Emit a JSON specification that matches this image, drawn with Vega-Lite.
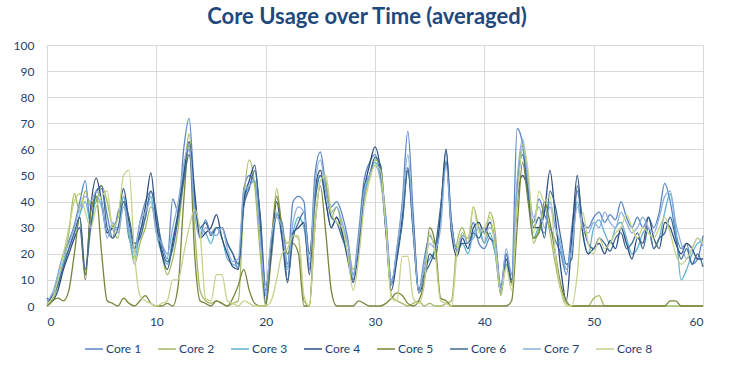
{
 "$schema": "https://vega.github.io/schema/vega-lite/v6.json",
 "width": 656, "height": 261,
 "autosize": "none",
 "padding": {"left": 47, "top": 45, "right": 32, "bottom": 68},
 "background": "white",
 "title": {"text": "Core Usage over Time (averaged)", "font": "Lato", "fontSize": 22, "fontWeight": "bold", "color": "#1F497D", "anchor": "middle", "offset": 10, "dx": -8},
 "data": {"values": [
{"t":0,"c1":0,"c2":0,"c3":2,"c4":3,"c5":0,"c6":1,"c7":2,"c8":1},
{"t":0.5,"c1":2,"c2":2,"c3":4,"c4":2,"c5":2,"c6":4,"c7":5,"c8":3},
{"t":1,"c1":12,"c2":8,"c3":9,"c4":6,"c5":3,"c6":8,"c7":12,"c8":10},
{"t":1.5,"c1":20,"c2":16,"c3":17,"c4":14,"c5":2,"c6":15,"c7":19,"c8":20},
{"t":2,"c1":25,"c2":28,"c3":22,"c4":20,"c5":6,"c6":22,"c7":24,"c8":30},
{"t":2.5,"c1":31,"c2":43,"c3":28,"c4":26,"c5":20,"c6":28,"c7":30,"c8":40},
{"t":3,"c1":40,"c2":36,"c3":35,"c4":30,"c5":34,"c6":34,"c7":38,"c8":43},
{"t":3.5,"c1":48,"c2":44,"c3":40,"c4":12,"c5":10,"c6":14,"c7":42,"c8":36},
{"t":4,"c1":30,"c2":38,"c3":32,"c4":38,"c5":36,"c6":30,"c7":40,"c8":30},
{"t":4.5,"c1":44,"c2":40,"c3":42,"c4":49,"c5":42,"c6":44,"c7":44,"c8":38},
{"t":5,"c1":45,"c2":46,"c3":38,"c4":40,"c5":20,"c6":46,"c7":40,"c8":42},
{"t":5.5,"c1":35,"c2":40,"c3":28,"c4":28,"c5":2,"c6":30,"c7":26,"c8":44},
{"t":6,"c1":26,"c2":30,"c3":30,"c4":30,"c5":1,"c6":26,"c7":32,"c8":30},
{"t":6.5,"c1":36,"c2":26,"c3":30,"c4":34,"c5":0,"c6":30,"c7":28,"c8":34},
{"t":7,"c1":40,"c2":42,"c3":42,"c4":45,"c5":3,"c6":40,"c7":38,"c8":50},
{"t":7.5,"c1":26,"c2":28,"c3":28,"c4":32,"c5":1,"c6":34,"c7":30,"c8":52},
{"t":8,"c1":22,"c2":16,"c3":18,"c4":22,"c5":0,"c6":24,"c7":20,"c8":20},
{"t":8.5,"c1":32,"c2":24,"c3":28,"c4":28,"c5":2,"c6":26,"c7":32,"c8":4},
{"t":9,"c1":40,"c2":30,"c3":34,"c4":38,"c5":4,"c6":34,"c7":36,"c8":2},
{"t":9.5,"c1":44,"c2":38,"c3":42,"c4":51,"c5":1,"c6":44,"c7":40,"c8":1},
{"t":10,"c1":34,"c2":32,"c3":28,"c4":32,"c5":0,"c6":36,"c7":28,"c8":0},
{"t":10.5,"c1":24,"c2":20,"c3":20,"c4":20,"c5":0,"c6":22,"c7":24,"c8":1},
{"t":11,"c1":18,"c2":12,"c3":16,"c4":14,"c5":1,"c6":17,"c7":20,"c8":2},
{"t":11.5,"c1":41,"c2":18,"c3":26,"c4":24,"c5":0,"c6":22,"c7":30,"c8":10},
{"t":12,"c1":36,"c2":30,"c3":36,"c4":36,"c5":8,"c6":34,"c7":40,"c8":10},
{"t":12.5,"c1":60,"c2":48,"c3":52,"c4":50,"c5":40,"c6":48,"c7":54,"c8":20},
{"t":13,"c1":72,"c2":66,"c3":60,"c4":63,"c5":62,"c6":58,"c7":62,"c8":30},
{"t":13.5,"c1":42,"c2":30,"c3":38,"c4":44,"c5":20,"c6":40,"c7":36,"c8":37},
{"t":14,"c1":27,"c2":6,"c3":30,"c4":26,"c5":2,"c6":30,"c7":26,"c8":28},
{"t":14.5,"c1":33,"c2":2,"c3":28,"c4":28,"c5":1,"c6":32,"c7":30,"c8":3},
{"t":15,"c1":28,"c2":1,"c3":24,"c4":30,"c5":0,"c6":27,"c7":28,"c8":2},
{"t":15.5,"c1":30,"c2":2,"c3":30,"c4":35,"c5":2,"c6":30,"c7":27,"c8":12},
{"t":16,"c1":30,"c2":1,"c3":26,"c4":26,"c5":1,"c6":30,"c7":30,"c8":12},
{"t":16.5,"c1":24,"c2":0,"c3":18,"c4":20,"c5":0,"c6":24,"c7":22,"c8":2},
{"t":17,"c1":20,"c2":1,"c3":16,"c4":15,"c5":3,"c6":20,"c7":17,"c8":1},
{"t":17.5,"c1":14,"c2":2,"c3":15,"c4":14,"c5":8,"c6":16,"c7":18,"c8":0},
{"t":18,"c1":45,"c2":40,"c3":40,"c4":40,"c5":14,"c6":38,"c7":44,"c8":2},
{"t":18.5,"c1":50,"c2":56,"c3":46,"c4":48,"c5":6,"c6":45,"c7":46,"c8":1},
{"t":19,"c1":47,"c2":46,"c3":48,"c4":54,"c5":1,"c6":52,"c7":48,"c8":0},
{"t":19.5,"c1":35,"c2":20,"c3":28,"c4":32,"c5":0,"c6":34,"c7":26,"c8":0},
{"t":20,"c1":8,"c2":0,"c3":4,"c4":1,"c5":0,"c6":6,"c7":5,"c8":0},
{"t":20.5,"c1":18,"c2":18,"c3":24,"c4":20,"c5":24,"c6":24,"c7":26,"c8":2},
{"t":21,"c1":35,"c2":45,"c3":36,"c4":40,"c5":42,"c6":34,"c7":34,"c8":10},
{"t":21.5,"c1":32,"c2":30,"c3":26,"c4":26,"c5":30,"c6":30,"c7":30,"c8":20},
{"t":22,"c1":16,"c2":24,"c3":14,"c4":9,"c5":20,"c6":10,"c7":15,"c8":22},
{"t":22.5,"c1":40,"c2":27,"c3":28,"c4":28,"c5":24,"c6":26,"c7":32,"c8":27},
{"t":23,"c1":42,"c2":26,"c3":34,"c4":30,"c5":20,"c6":32,"c7":38,"c8":27},
{"t":23.5,"c1":40,"c2":2,"c3":30,"c4":32,"c5":0,"c6":36,"c7":36,"c8":4},
{"t":24,"c1":14,"c2":0,"c3":18,"c4":12,"c5":0,"c6":20,"c7":16,"c8":0},
{"t":24.5,"c1":50,"c2":38,"c3":42,"c4":44,"c5":30,"c6":40,"c7":46,"c8":30},
{"t":25,"c1":59,"c2":52,"c3":50,"c4":52,"c5":46,"c6":50,"c7":56,"c8":48},
{"t":25.5,"c1":46,"c2":48,"c3":40,"c4":40,"c5":28,"c6":44,"c7":44,"c8":50},
{"t":26,"c1":38,"c2":34,"c3":30,"c4":30,"c5":6,"c6":34,"c7":36,"c8":36},
{"t":26.5,"c1":40,"c2":38,"c3":34,"c4":34,"c5":0,"c6":32,"c7":38,"c8":32},
{"t":27,"c1":35,"c2":30,"c3":28,"c4":28,"c5":0,"c6":26,"c7":32,"c8":30},
{"t":27.5,"c1":26,"c2":24,"c3":20,"c4":18,"c5":0,"c6":20,"c7":24,"c8":20},
{"t":28,"c1":12,"c2":14,"c3":12,"c4":9,"c5":0,"c6":10,"c7":11,"c8":6},
{"t":28.5,"c1":28,"c2":20,"c3":22,"c4":22,"c5":2,"c6":24,"c7":26,"c8":18},
{"t":29,"c1":48,"c2":40,"c3":42,"c4":44,"c5":1,"c6":46,"c7":44,"c8":38},
{"t":29.5,"c1":55,"c2":50,"c3":50,"c4":54,"c5":0,"c6":50,"c7":50,"c8":48},
{"t":30,"c1":58,"c2":56,"c3":55,"c4":61,"c5":0,"c6":57,"c7":54,"c8":54},
{"t":30.5,"c1":50,"c2":54,"c3":50,"c4":52,"c5":0,"c6":54,"c7":48,"c8":52},
{"t":31,"c1":34,"c2":30,"c3":32,"c4":28,"c5":1,"c6":30,"c7":31,"c8":30},
{"t":31.5,"c1":8,"c2":4,"c3":10,"c4":6,"c5":3,"c6":9,"c7":9,"c8":3},
{"t":32,"c1":22,"c2":2,"c3":18,"c4":18,"c5":5,"c6":20,"c7":22,"c8":2},
{"t":32.5,"c1":40,"c2":1,"c3":32,"c4":34,"c5":4,"c6":32,"c7":38,"c8":19},
{"t":33,"c1":67,"c2":0,"c3":52,"c4":53,"c5":1,"c6":52,"c7":58,"c8":19},
{"t":33.5,"c1":35,"c2":1,"c3":28,"c4":28,"c5":0,"c6":32,"c7":30,"c8":3},
{"t":34,"c1":6,"c2":2,"c3":6,"c4":5,"c5":2,"c6":6,"c7":5,"c8":1},
{"t":34.5,"c1":18,"c2":0,"c3":14,"c4":10,"c5":10,"c6":12,"c7":16,"c8":8},
{"t":35,"c1":27,"c2":1,"c3":18,"c4":20,"c5":30,"c6":16,"c7":24,"c8":28},
{"t":35.5,"c1":24,"c2":0,"c3":22,"c4":18,"c5":24,"c6":22,"c7":22,"c8":20},
{"t":36,"c1":34,"c2":0,"c3":34,"c4":36,"c5":3,"c6":38,"c7":30,"c8":2},
{"t":36.5,"c1":60,"c2":1,"c3":56,"c4":60,"c5":2,"c6":55,"c7":54,"c8":1},
{"t":37,"c1":32,"c2":2,"c3":28,"c4":28,"c5":0,"c6":32,"c7":30,"c8":0},
{"t":37.5,"c1":22,"c2":24,"c3":22,"c4":19,"c5":0,"c6":21,"c7":22,"c8":20},
{"t":38,"c1":27,"c2":30,"c3":24,"c4":26,"c5":0,"c6":24,"c7":28,"c8":28},
{"t":38.5,"c1":26,"c2":24,"c3":20,"c4":22,"c5":0,"c6":24,"c7":24,"c8":26},
{"t":39,"c1":32,"c2":38,"c3":28,"c4":30,"c5":0,"c6":28,"c7":26,"c8":38},
{"t":39.5,"c1":24,"c2":30,"c3":30,"c4":32,"c5":0,"c6":26,"c7":30,"c8":28},
{"t":40,"c1":22,"c2":24,"c3":24,"c4":28,"c5":0,"c6":30,"c7":28,"c8":30},
{"t":40.5,"c1":26,"c2":36,"c3":28,"c4":32,"c5":0,"c6":26,"c7":30,"c8":34},
{"t":41,"c1":20,"c2":28,"c3":20,"c4":24,"c5":0,"c6":24,"c7":25,"c8":22},
{"t":41.5,"c1":5,"c2":4,"c3":8,"c4":5,"c5":0,"c6":7,"c7":6,"c8":5},
{"t":42,"c1":20,"c2":16,"c3":16,"c4":18,"c5":0,"c6":20,"c7":22,"c8":15},
{"t":42.5,"c1":12,"c2":8,"c3":12,"c4":9,"c5":2,"c6":10,"c7":12,"c8":6},
{"t":43,"c1":68,"c2":44,"c3":42,"c4":40,"c5":30,"c6":46,"c7":48,"c8":40},
{"t":43.5,"c1":62,"c2":62,"c3":60,"c4":50,"c5":55,"c6":58,"c7":64,"c8":61},
{"t":44,"c1":42,"c2":50,"c3":46,"c4":44,"c5":40,"c6":44,"c7":48,"c8":52},
{"t":44.5,"c1":32,"c2":24,"c3":26,"c4":30,"c5":26,"c6":30,"c7":34,"c8":28},
{"t":45,"c1":41,"c2":30,"c3":30,"c4":30,"c5":28,"c6":34,"c7":38,"c8":44},
{"t":45.5,"c1":35,"c2":38,"c3":28,"c4":36,"c5":40,"c6":26,"c7":30,"c8":40},
{"t":46,"c1":30,"c2":28,"c3":40,"c4":52,"c5":32,"c6":44,"c7":38,"c8":42},
{"t":46.5,"c1":25,"c2":16,"c3":30,"c4":34,"c5":20,"c6":38,"c7":30,"c8":20},
{"t":47,"c1":20,"c2":6,"c3":22,"c4":14,"c5":8,"c6":26,"c7":24,"c8":6},
{"t":47.5,"c1":12,"c2":1,"c3":14,"c4":2,"c5":2,"c6":16,"c7":14,"c8":0},
{"t":48,"c1":30,"c2":0,"c3":24,"c4":26,"c5":0,"c6":18,"c7":22,"c8":0},
{"t":48.5,"c1":44,"c2":0,"c3":40,"c4":50,"c5":0,"c6":46,"c7":38,"c8":12},
{"t":49,"c1":32,"c2":0,"c3":28,"c4":28,"c5":0,"c6":32,"c7":30,"c8":36},
{"t":49.5,"c1":30,"c2":0,"c3":20,"c4":20,"c5":0,"c6":24,"c7":28,"c8":24},
{"t":50,"c1":34,"c2":3,"c3":30,"c4":22,"c5":0,"c6":22,"c7":32,"c8":20},
{"t":50.5,"c1":36,"c2":4,"c3":33,"c4":24,"c5":0,"c6":26,"c7":30,"c8":26},
{"t":51,"c1":32,"c2":0,"c3":28,"c4":20,"c5":0,"c6":24,"c7":36,"c8":22},
{"t":51.5,"c1":35,"c2":0,"c3":24,"c4":25,"c5":0,"c6":21,"c7":32,"c8":24},
{"t":52,"c1":33,"c2":0,"c3":30,"c4":22,"c5":0,"c6":26,"c7":30,"c8":28},
{"t":52.5,"c1":40,"c2":0,"c3":32,"c4":30,"c5":0,"c6":28,"c7":36,"c8":30},
{"t":53,"c1":34,"c2":0,"c3":26,"c4":24,"c5":0,"c6":22,"c7":32,"c8":35},
{"t":53.5,"c1":30,"c2":0,"c3":20,"c4":18,"c5":0,"c6":24,"c7":28,"c8":30},
{"t":54,"c1":34,"c2":0,"c3":22,"c4":26,"c5":0,"c6":28,"c7":30,"c8":26},
{"t":54.5,"c1":30,"c2":0,"c3":28,"c4":24,"c5":0,"c6":22,"c7":34,"c8":30},
{"t":55,"c1":34,"c2":0,"c3":30,"c4":34,"c5":0,"c6":30,"c7":30,"c8":28},
{"t":55.5,"c1":30,"c2":0,"c3":22,"c4":26,"c5":0,"c6":22,"c7":28,"c8":26},
{"t":56,"c1":36,"c2":0,"c3":26,"c4":22,"c5":0,"c6":26,"c7":34,"c8":30},
{"t":56.5,"c1":47,"c2":0,"c3":36,"c4":32,"c5":0,"c6":28,"c7":42,"c8":34},
{"t":57,"c1":40,"c2":0,"c3":43,"c4":30,"c5":2,"c6":34,"c7":44,"c8":28},
{"t":57.5,"c1":28,"c2":0,"c3":30,"c4":24,"c5":2,"c6":26,"c7":32,"c8":20},
{"t":58,"c1":22,"c2":0,"c3":10,"c4":20,"c5":0,"c6":18,"c7":24,"c8":16},
{"t":58.5,"c1":24,"c2":0,"c3":14,"c4":24,"c5":0,"c6":22,"c7":18,"c8":18},
{"t":59,"c1":16,"c2":0,"c3":20,"c4":22,"c5":0,"c6":16,"c7":22,"c8":22},
{"t":59.5,"c1":18,"c2":0,"c3":24,"c4":18,"c5":0,"c6":20,"c7":26,"c8":26},
{"t":60,"c1":27,"c2":0,"c3":25,"c4":18,"c5":0,"c6":15,"c7":23,"c8":24}
 ]},
 "transform": [{"fold": ["c1","c2","c3","c4","c5","c6","c7","c8"], "as": ["core","usage"]}],
 "mark": {"type": "line", "interpolate": "monotone", "strokeWidth": 1.3},
 "encoding": {
  "x": {"field": "t", "type": "quantitative", "scale": {"domain": [0,60], "nice": false},
        "axis": {"values": [0,10,20,30,40,50,60], "title": null, "grid": true, "ticks": false, "domainColor": "#D9D9D9", "labelPadding": 10}},
  "y": {"field": "usage", "type": "quantitative", "scale": {"domain": [0,100], "nice": false},
        "axis": {"values": [0,10,20,30,40,50,60,70,80,90,100], "title": null, "ticks": false, "domain": false, "labelPadding": 13}},
  "color": {"field": "core", "type": "nominal", "sort": null,
        "scale": {"domain": ["c1","c2","c3","c4","c5","c6","c7","c8"], "range": ["#5A87C5","#A3BA62","#5DB3D2","#2E4B7E","#76853A","#3F6B92","#8EAEDD","#C4D28A"]},
        "legend": {"orient": "none", "legendX": 37, "legendY": 294, "direction": "horizontal", "title": null, "symbolType": "stroke", "symbolSize": 320, "symbolStrokeWidth": 1.5,
                   "labelExpr": "'Core ' + substring(datum.label, 1)", "labelFont": "Lato", "labelFontSize": 12, "labelColor": "#1F3F6E",
                   "columnPadding": 13, "labelOffset": 2}}
 },
 "config": {
  "view": {"stroke": "#D9D9D9"},
  "axis": {"gridColor": "#D9D9D9", "gridWidth": 1, "labelFont": "Lato", "labelFontSize": 12, "labelColor": "#1F3F6E"}
 }
}
